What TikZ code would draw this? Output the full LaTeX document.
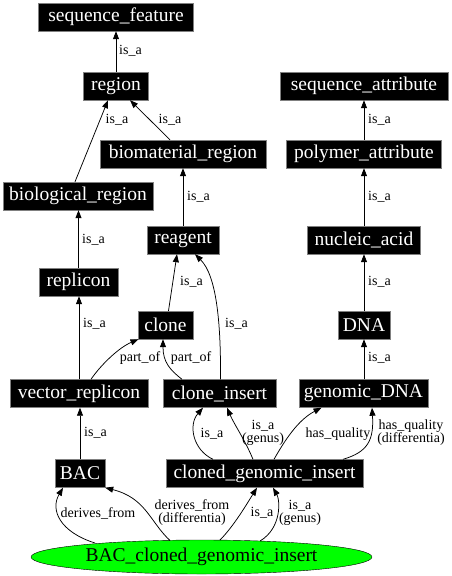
\documentclass[tikz,border=0pt]{standalone}
\usepackage{fontspec}
\setmainfont{Liberation Serif}
\usetikzlibrary{arrows.meta,shapes.geometric}
\begin{document}
\begin{tikzpicture}[x=1pt,y=1pt,
  box/.style={fill=black,draw=gray,text=white,inner sep=0pt,minimum height=28pt,font=\fontsize{19.5}{20}\selectfont},
  oval/.style={ellipse,fill=green,draw=black,inner sep=0pt,minimum width=341pt,minimum height=34pt,font=\fontsize{19.5}{20}\selectfont},
  arr/.style={-{Triangle[length=8pt,width=6pt]},line width=0.75pt},
  lab/.style={font=\fontsize{14}{13}\selectfont,inner sep=0pt,align=center}]
\useasboundingbox (0,0) rectangle (451,-576);
% nodes
\node[box,minimum width=155pt] (seqf) at (116,-17) {sequence\_feature};
\node[box,minimum width=65pt] (region) at (116,-86) {region};
\node[box,minimum width=168pt] (seqa) at (364,-86) {sequence\_attribute};
\node[box,minimum width=166pt] (biom) at (183,-154) {biomaterial\_region};
\node[box,minimum width=155pt] (polya) at (364,-154) {polymer\_attribute};
\node[box,minimum width=150pt] (biol) at (78,-196) {biological\_region};
\node[box,minimum width=72pt] (reagent) at (183,-240) {reagent};
\node[box,minimum width=113pt] (nucl) at (364,-240) {nucleic\_acid};
\node[box,minimum width=79pt] (replicon) at (78.5,-282) {replicon};
\node[box,minimum width=55pt] (clone) at (165.5,-325) {clone};
\node[box,minimum width=52pt] (dna) at (364,-325) {DNA};
\node[box,minimum width=138pt] (vecrep) at (79,-393.5) {vector\_replicon};
\node[box,minimum width=113pt] (cli) at (219.5,-393.5) {clone\_insert};
\node[box,minimum width=129pt] (gdna) at (363.5,-393.5) {genomic\_DNA};
\node[box,minimum width=50pt] (bac) at (80,-473.5) {BAC};
\node[box,minimum width=197pt] (cgi) at (264.5,-473.5) {cloned\_genomic\_insert};
\node[oval] (bcgi) at (201.5,-557) {BAC\_cloned\_genomic\_insert};
% edges
\draw[arr] (region) -- (seqf);
\node[lab,anchor=west] (l1) at (119,-51) {is\_a};
\draw[arr] ([xshift=-3pt]biol.north) -- ([xshift=-8pt]region.south);
\node[lab] (l2) at (117,-120) {is\_a};
\draw[arr] ([xshift=-13pt]biom.north) -- ([xshift=14pt]region.south);
\node[lab] (l3) at (170,-120) {is\_a};
\draw[arr] (reagent) -- (biom);
\node[lab,anchor=west] (l4) at (187,-197) {is\_a};
\draw[arr] (replicon.north) -- (replicon.north |- biol.south);
\node[lab,anchor=west] (l5) at (82,-240) {is\_a};
\draw[arr] (vecrep.north) -- (vecrep.north |- replicon.south);
\node[lab,anchor=west] (l6) at (83,-324) {is\_a};
\draw[arr] ([xshift=3pt]clone.north) -- ([xshift=-6pt]reagent.south);
\node[lab,anchor=west] (l7) at (180,-282) {is\_a};
\draw[arr] ([xshift=1pt]cli.north) .. controls (221,-320) and (216,-275) .. ([xshift=12pt]reagent.south);
\node[lab,anchor=west] (l8) at (225,-324) {is\_a};
\draw[arr] ([xshift=12pt]vecrep.north) .. controls (100,-366) and (118,-348) .. ([xshift=-27pt]clone.south);
\node[lab] (l9) at (140,-358) {part\_of};
\draw[arr] ([xshift=-37.5pt]cli.north) .. controls (170,-370) and (163,-362) .. ([xshift=-2.5pt]clone.south);
\node[lab] (l10) at (191,-358) {part\_of};
\draw[arr] (polya) -- (seqa);
\node[lab,anchor=west] (l11) at (368,-120) {is\_a};
\draw[arr] (nucl) -- (polya);
\node[lab,anchor=west] (l12) at (368,-197) {is\_a};
\draw[arr] (dna) -- (nucl);
\node[lab,anchor=west] (l13) at (368,-282) {is\_a};
\draw[arr] (dna.south |- gdna.north) -- (dna.south);
\node[lab,anchor=west] (l14) at (368,-358) {is\_a};
\draw[arr] (bac.north) -- (bac.north |- vecrep.south);
\node[lab,anchor=west] (l15) at (84,-433) {is\_a};
% cloned_genomic_insert edges
\draw[arr] ([xshift=-51.5pt]cgi.north) .. controls (193,-450) and (188,-425) .. ([xshift=-16.5pt]cli.south);
\node[lab] (l16) at (212,-434) {is\_a};
\draw[arr] ([xshift=-11.5pt]cgi.north) .. controls (245,-440) and (234,-424) .. ([xshift=7.5pt]cli.south);
\node[lab] (l17) at (263,-433) {is\_a\\(genus)};
\draw[arr] ([xshift=9.5pt]cgi.north) .. controls (285,-440) and (298,-420) .. ([xshift=-42pt]gdna.south);
\node[lab] (l18) at (338,-434) {has\_quality};
\draw[arr] ([xshift=78.5pt]cgi.north) .. controls (368,-452) and (374,-440) .. ([xshift=8.5pt]gdna.south);
\node[lab] (l19) at (411,-433) {has\_quality\\(differentia)};
% BAC_cloned_genomic_insert edges
\draw[arr] ([shift={(-106.5,14)}]bcgi.center) .. controls (60,-532) and (50,-510) .. ([xshift=-17pt]bac.south);
\node[lab] (l20) at (98,-513) {derives\_from};
\draw[arr] ([shift={(-31.5,16.5)}]bcgi.center) .. controls (150,-522) and (146,-498) .. (bac.south east);
\node[lab] (l21) at (192,-513) {derives\_from\\(differentia)};
\draw[arr] ([shift={(18.5,17)}]bcgi.center) .. controls (234,-526) and (248,-502) .. ([xshift=-7.5pt]cgi.south);
\node[lab] (l22) at (262,-513) {is\_a};
\draw[arr] ([shift={(58.5,16)}]bcgi.center) .. controls (282,-528) and (280,-500) .. ([xshift=8.5pt]cgi.south);
\node[lab] (l23) at (300,-513) {is\_a\\(genus)};
\end{tikzpicture}
\end{document}
